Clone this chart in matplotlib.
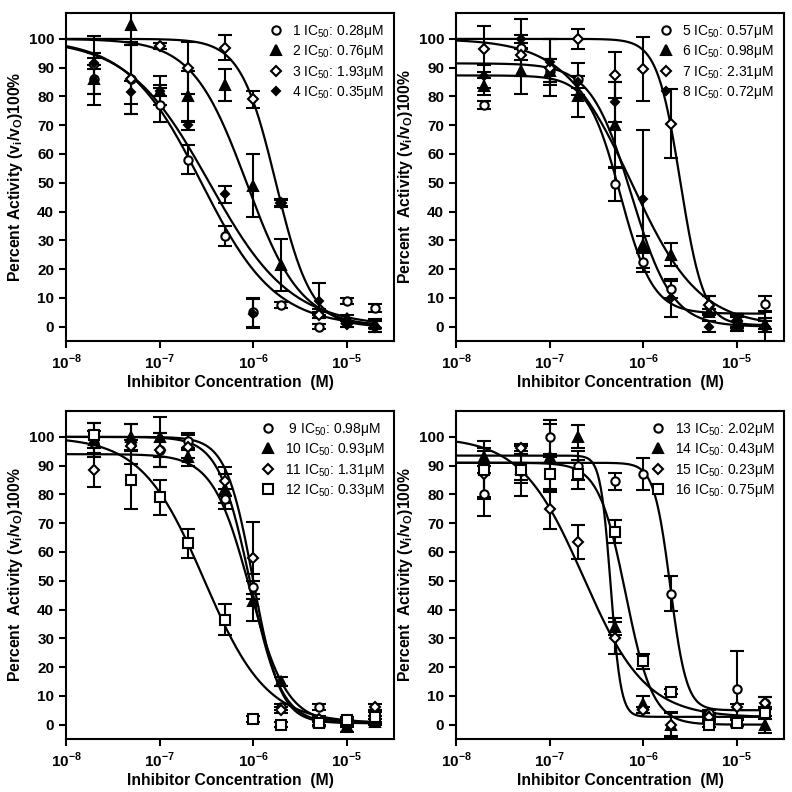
import numpy as np
import matplotlib
matplotlib.use("Agg")
import matplotlib.pyplot as plt

plt.rcParams['font.family'] = ['Liberation Sans', 'DejaVu Sans']
plt.rcParams['mathtext.fontset'] = 'custom'
plt.rcParams['mathtext.rm'] = 'Liberation Sans'
plt.rcParams['mathtext.bf'] = 'Liberation Sans:bold'

conc = [2e-8, 5e-8, 1e-7, 2e-7, 5e-7, 1e-6, 2e-6, 5e-6, 1e-5, 2e-5]
ticks_x = [1e-8, 1e-7, 1e-6, 1e-5]
tick_labels_x = [r'10$^{\mathbf{-8}}$', r'10$^{\mathbf{-7}}$', r'10$^{\mathbf{-6}}$', r'10$^{\mathbf{-5}}$']

# mean activity and error
act_1 = [86, 86, 77, 58, 31.5, 5, 7.5, 0, 9, 6.5]
err_1 = [9, 12, 6, 5, 3.5, 5, 1, 1, 1, 1.5]
act_2 = [86, 105, 82, 80, 84, 49, 21.5, 5, 3, 1]
err_2 = [5, 6, 2, 9, 5.5, 11, 9, 1, 1, 1.5]
act_3 = [91, 86, 97.5, 90, 97, 79, 43, 4, 1, 0]
err_3 = [10, 12, 1, 9, 4.5, 3, 1.5, 1, 1, 2]
act_4 = [91.5, 81.5, 82, 70, 46, 4.5, 43, 9, 1, 0]
err_4 = [2, 4, 5, 1.5, 3, 5, 1, 6, 1, 2]

act_5 = [77, 97, 89, 86, 49.5, 22.5, 13, 7.5, 2, 8]
err_5 = [1.5, 10, 4, 5.5, 6, 3.5, 3, 3, 2.5, 2.5]
act_6 = [83.5, 89, 89, 80, 70, 28.5, 25, 5, 1, 1]
err_6 = [3, 8, 4, 7, 15, 3, 4, 1, 2.5, 2]
act_7 = [96.5, 94.5, 90, 100, 87.5, 89.5, 70.5, 7.5, 2, 0]
err_7 = [8, 2, 10, 3.5, 8, 11, 12, 3, 2, 2]
act_8 = [87, 100, 92, 85, 78, 44.5, 10, 0, 2, 0]
err_8 = [4, 1.5, 8, 2, 7, 24, 6.5, 2, 2.5, 5]

act_9 = [98, 97.5, 95.5, 98.5, 78.5, 48, 6, 6, 0, 2]
err_9 = [4, 7, 6, 3, 3.5, 4.5, 1, 1, 1, 1]
act_10 = [99, 100, 100, 93, 82, 43, 15, 1, -0.5, 1]
err_10 = [6, 4.5, 7, 3, 5, 7, 1.5, 1, 2, 1]
act_11 = [88.5, 97, 95.5, 96.5, 84.5, 58, 5, 2, 1, 6]
err_11 = [6, 2, 6, 4, 5, 12.5, 1, 1, 1, 1]
act_12 = [100.5, 85, 79, 63, 36.5, 2, 0, 0.5, 1.5, 2.5]
err_12 = [4.5, 10, 6, 5, 5.5, 1, 1, 1, 1, 2]

act_13 = [80, 88, 100, 90, 84.5, 87, 45.5, 4, 12.5, 7.5]
err_13 = [7.5, 3, 6, 5, 3, 5.5, 6, 1, 13, 2]
act_14 = [93, 89, 93, 100, 34, 7, 0, 3, 1, 0]
err_14 = [3, 5, 11.5, 4, 3, 3, 4, 1, 1, 3]
act_15 = [87, 96, 75, 63.5, 30, 5, 0, 2.5, 6, 7.5]
err_15 = [8, 1, 7, 6, 5.5, 1, 4.5, 1, 1, 2]
act_16 = [88.5, 88.5, 87, 87, 67, 22, 11.5, 0, 0.5, 4]
err_16 = [10, 9, 6, 5, 4, 2.5, 1, 1, 1, 2]

# fitted curves: top, bottom, ic50 (M), hill slope
fit_1 = [100, 0, 0.28e-6, 1.1]
fit_2 = [100, 0, 0.85e-6, 1.5]
fit_3 = [100, 0, 1.75e-6, 2.3]
fit_4 = [100, 0, 0.34e-6, 1.0]
fit_5 = [87.3, 4.5, 0.57e-6, 2.5]
fit_6 = [91.5, 0, 0.75e-6, 2.0]
fit_7 = [100, 0.5, 2.5e-6, 3.5]
fit_8 = [100, 0, 0.75e-6, 1.2]
fit_9 = [100, 0.5, 1.0e-6, 3.0]
fit_10 = [94, 0.5, 0.92e-6, 2.2]
fit_11 = [100, 0.5, 0.92e-6, 2.6]
fit_12 = [100, 0.5, 0.30e-6, 1.3]
fit_13 = [91, 5, 1.95e-6, 5.0]
fit_14 = [93.5, 2.7, 0.45e-6, 8.0]
fit_15 = [100, 2.5, 0.23e-6, 1.3]
fit_16 = [91, 0, 0.65e-6, 3.0]

labels_1 = ['1 IC$_{50}$: 0.28\u03bcM', '2 IC$_{50}$: 0.76\u03bcM', '3 IC$_{50}$: 1.93\u03bcM', '4 IC$_{50}$: 0.35\u03bcM']
labels_2 = ['5 IC$_{50}$: 0.57\u03bcM', '6 IC$_{50}$: 0.98\u03bcM', '7 IC$_{50}$: 2.31\u03bcM', '8 IC$_{50}$: 0.72\u03bcM']
labels_3 = [' 9 IC$_{50}$: 0.98\u03bcM', '10 IC$_{50}$: 0.93\u03bcM', '11 IC$_{50}$: 1.31\u03bcM', '12 IC$_{50}$: 0.33\u03bcM']
labels_4 = ['13 IC$_{50}$: 2.02\u03bcM', '14 IC$_{50}$: 0.43\u03bcM', '15 IC$_{50}$: 0.23\u03bcM', '16 IC$_{50}$: 0.75\u03bcM']


def logistic(x, p):
    top, bottom, ic50, hill = p
    return bottom + (top - bottom) / (1 + (x / ic50) ** hill)


# marker style: (marker, facecolor, size)
open_circle = ('o', 'white', 6)
triangle = ('^', 'black', 6.5)
open_diamond = ('D', 'white', 5.5)
filled_diamond = ('D', 'black', 4.5)
open_square = ('s', 'white', 7)

panels = [
    ([act_1, act_2, act_3, act_4], [err_1, err_2, err_3, err_4],
     [fit_1, fit_2, fit_3, fit_4], labels_1,
     [open_circle, triangle, open_diamond, filled_diamond], 'Percent Activity'),
    ([act_5, act_6, act_7, act_8], [err_5, err_6, err_7, err_8],
     [fit_5, fit_6, fit_7, fit_8], labels_2,
     [open_circle, triangle, open_diamond, filled_diamond], 'Percent  Activity'),
    ([act_9, act_10, act_11, act_12], [err_9, err_10, err_11, err_12],
     [fit_9, fit_10, fit_11, fit_12], labels_3,
     [open_circle, triangle, open_diamond, open_square], 'Percent  Activity'),
    ([act_13, act_14, act_15, act_16], [err_13, err_14, err_15, err_16],
     [fit_13, fit_14, fit_15, fit_16], labels_4,
     [open_circle, triangle, open_diamond, open_square], 'Percent  Activity'),
]

W = 792.0
boxes = [(66, 13, 328, 328), (456, 13, 328, 328), (66, 411, 328, 328), (456, 411, 328, 328)]

fig = plt.figure(figsize=(7.92, 7.92), dpi=100)
xs = np.logspace(-8, np.log10(2e-5), 400)

for (acts, errs, fits, labels, styles, ytext), (l, t, w, h) in zip(panels, boxes):
    ax = fig.add_axes([l / W, 1 - (t + h) / W, w / W, h / W])
    for p in fits:
        ax.plot(xs, logistic(xs, p), color='black', linewidth=1.6, zorder=2)
    for a, e, lab, (m, fc, ms) in zip(acts, errs, labels, styles):
        ax.errorbar(conc, a, yerr=e, fmt='none', ecolor='black', elinewidth=1.5,
                    capsize=5, capthick=1.5, zorder=3)
        ax.plot(conc, a, linestyle='none', marker=m, markerfacecolor=fc,
                markeredgecolor='black', markersize=ms, markeredgewidth=1.5,
                label=lab, zorder=4)
    ax.set_xscale('log')
    ax.set_xlim(1e-8, 3.2e-5)
    ax.set_ylim(-5, 109)
    ax.set_xticks(ticks_x)
    ax.set_xticklabels(tick_labels_x)
    ax.minorticks_off()
    ax.set_yticks(range(0, 101, 10))
    ax.tick_params(direction='out', width=1.5, length=5, labelsize=11)
    for lbl in ax.get_xticklabels() + ax.get_yticklabels():
        lbl.set_fontweight('bold')
    for s in ax.spines.values():
        s.set_linewidth(1.5)
    ax.set_xlabel('Inhibitor Concentration  (M)', fontsize=11.3, fontweight='bold', labelpad=2)
    ax.set_ylabel(ytext + r' (v$_\mathbf{i}$/v$_\mathbf{O}$)100%', fontsize=11.3,
                  fontweight='bold', labelpad=3)
    ax.legend(loc='upper right', frameon=False, fontsize=10, handletextpad=0.6,
              labelspacing=0.25, borderaxespad=0.3, handlelength=1.2)

fig.savefig('out.png', dpi=100)
